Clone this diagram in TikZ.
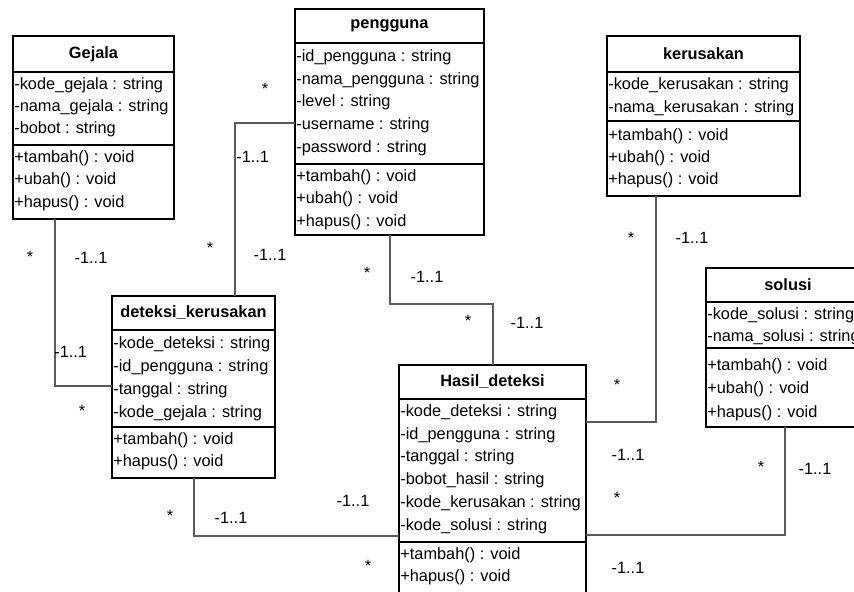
\documentclass[tikz,border=0pt]{standalone}
\usepackage{fontspec}
\setmainfont{Liberation Sans}
\usetikzlibrary{calc}
\definecolor{garisc}{HTML}{5A5A5A}
\tikzset{
  kelas/.style={draw=black,line width=0.75pt,anchor=north west,inner sep=0pt,outer sep=0pt},
  sekat/.style={black,line width=0.75pt},
  judul/.style={inner sep=0pt,font=\fontsize{9.3}{11}\selectfont\bfseries},
  baris/.style={anchor=west,inner sep=0pt,font=\fontsize{9.3}{11}\selectfont},
  mult/.style={inner sep=0pt,font=\fontsize{9.3}{11}\selectfont},
  garis/.style={garisc,line width=0.6pt},
}

\begin{document}
\begin{tikzpicture}[x=0.02cm,y=-0.02cm]
  \useasboundingbox (0,0) rectangle (854,591);
  \clip (0,0) rectangle (854,591);
  % kelas Gejala
  \node[kelas,minimum width=3.22cm,minimum height=3.66cm] (gejala) at (13,36) {};
  \draw[sekat] (13,72) -- (174,72);
  \draw[sekat] (13,145) -- (174,145);
  \node[judul] (tgejala) at (93.5,54) {Gejala};
  \foreach \t [count=\i from 0] in {-kode\_gejala : string,-nama\_gejala : string,-bobot : string}
    \node[baris] (ga\i) at (14,85+22.2*\i) {\t};
  \foreach \t [count=\i from 0] in {+tambah() : void,+ubah() : void,+hapus() : void}
    \node[baris] (gm\i) at (14,158+22.5*\i) {\t};
  % kelas pengguna
  \node[kelas,minimum width=3.78cm,minimum height=4.52cm] (pengguna) at (295,9) {};
  \draw[sekat] (295,43) -- (484,43);
  \draw[sekat] (295,164) -- (484,164);
  \node[judul] (tpengguna) at (389.5,26) {pengguna};
  \foreach \t [count=\i from 0] in {-id\_pengguna : string,-nama\_pengguna : string,-level : string,-username : string,-password : string}
    \node[baris] (pa\i) at (296,57+22.8*\i) {\t};
  \foreach \t [count=\i from 0] in {+tambah() : void,+ubah() : void,+hapus() : void}
    \node[baris] (pm\i) at (296,177+22.5*\i) {\t};
  % kelas kerusakan
  \node[kelas,minimum width=3.86cm,minimum height=3.2cm] (kerusakan) at (607,36) {};
  \draw[sekat] (607,72) -- (800,72);
  \draw[sekat] (607,121) -- (800,121);
  \node[judul] (tkerusakan) at (703.5,54) {kerusakan};
  \foreach \t [count=\i from 0] in {-kode\_kerusakan : string,-nama\_kerusakan : string}
    \node[baris] (ka\i) at (608,85+23*\i) {\t};
  \foreach \t [count=\i from 0] in {+tambah() : void,+ubah() : void,+hapus() : void}
    \node[baris] (km\i) at (608,136+22*\i) {\t};
  % kelas deteksi_kerusakan
  \node[kelas,minimum width=3.26cm,minimum height=3.64cm] (deteksi) at (112,296) {};
  \draw[sekat] (112,330) -- (275,330);
  \draw[sekat] (112,427) -- (275,427);
  \node[judul] (tdeteksi) at (193.5,313) {deteksi\_kerusakan};
  \foreach \t [count=\i from 0] in {-kode\_deteksi : string,-id\_pengguna : string,-tanggal : string,-kode\_gejala : string}
    \node[baris] (da\i) at (113,344+23*\i) {\t};
  \foreach \t [count=\i from 0] in {+tambah() : void,+hapus() : void}
    \node[baris] (dm\i) at (113,440+22*\i) {\t};
  % kelas Hasil_deteksi
  \node[kelas,minimum width=3.74cm,minimum height=4.6cm] (hasil) at (399,365) {};
  \draw[sekat] (399,399) -- (586,399);
  \draw[sekat] (399,542) -- (586,542);
  \node[judul] (thasil) at (492.5,382) {Hasil\_deteksi};
  \foreach \t [count=\i from 0] in {-kode\_deteksi : string,-id\_pengguna : string,-tanggal : string,-bobot\_hasil : string,-kode\_kerusakan : string,-kode\_solusi : string}
    \node[baris] (ha\i) at (400,412+22.8*\i) {\t};
  \foreach \t [count=\i from 0] in {+tambah() : void,+hapus() : void}
    \node[baris] (hm\i) at (400,555+22*\i) {\t};
  % kelas solusi
  \node[kelas,minimum width=3.3cm,minimum height=3.18cm] (solusi) at (706,268) {};
  \draw[sekat] (706,302) -- (871,302);
  \draw[sekat] (706,348) -- (871,348);
  \node[judul] (tsolusi) at (788,285) {solusi};
  \foreach \t [count=\i from 0] in {-kode\_solusi : string,-nama\_solusi : string}
    \node[baris] (sa\i) at (707,315+22*\i) {\t};
  \foreach \t [count=\i from 0] in {+tambah() : void,+ubah() : void,+hapus() : void}
    \node[baris] (sm\i) at (707,366+23.5*\i) {\t};

  % relasi
  \coordinate (k1) at (55,386);
  \coordinate (k2) at (235,123);
  \coordinate (k3a) at (390,304);
  \coordinate (k3b) at (493,304);
  \coordinate (k4) at (656,422);
  \coordinate (k5) at (785,535);
  \coordinate (k6) at (194,536);
  \draw[garis] (gejala.south -| k1) |- (deteksi.west |- k1);
  \draw[garis] (pengguna.west |- k2) -| (deteksi.north -| k2);
  \draw[garis] (pengguna.south -| k3a) -- (k3a) -- (k3b) -- (hasil.north -| k3b);
  \draw[garis] (kerusakan.south -| k4) |- (hasil.east |- k4);
  \draw[garis] (solusi.south -| k5) |- (hasil.east |- k5);
  \draw[garis] (deteksi.south -| k6) |- (hasil.west |- k6);

  % multiplisitas
  \node[mult] (m1) at (265,89) {*};
  \node[mult,anchor=west] (m2) at (236,157) {-1..1};
  \node[mult] (m3) at (30,257) {*};
  \node[mult] (m4) at (91,258) {-1..1};
  \node[mult] (m5) at (210,248) {*};
  \node[mult] (m6) at (270,255) {-1..1};
  \node[mult,anchor=west] (m7) at (54,352) {-1..1};
  \node[mult] (m8) at (82,411) {*};
  \node[mult] (m9) at (367,273) {*};
  \node[mult] (m10) at (427,277) {-1..1};
  \node[mult] (m11) at (468,321) {*};
  \node[mult] (m12) at (527,323) {-1..1};
  \node[mult] (m13) at (631,238) {*};
  \node[mult] (m14) at (692,238) {-1..1};
  \node[mult] (m15) at (617,385) {*};
  \node[mult] (m16) at (628,455) {-1..1};
  \node[mult] (m17) at (617,498) {*};
  \node[mult] (m18) at (761,467) {*};
  \node[mult] (m19) at (815,469) {-1..1};
  \node[mult] (m20) at (628,568) {-1..1};
  \node[mult] (m21) at (170,516) {*};
  \node[mult] (m22) at (231,518) {-1..1};
  \node[mult] (m23) at (353,501) {-1..1};
  \node[mult] (m24) at (368,566) {*};
\end{tikzpicture}
\end{document}
